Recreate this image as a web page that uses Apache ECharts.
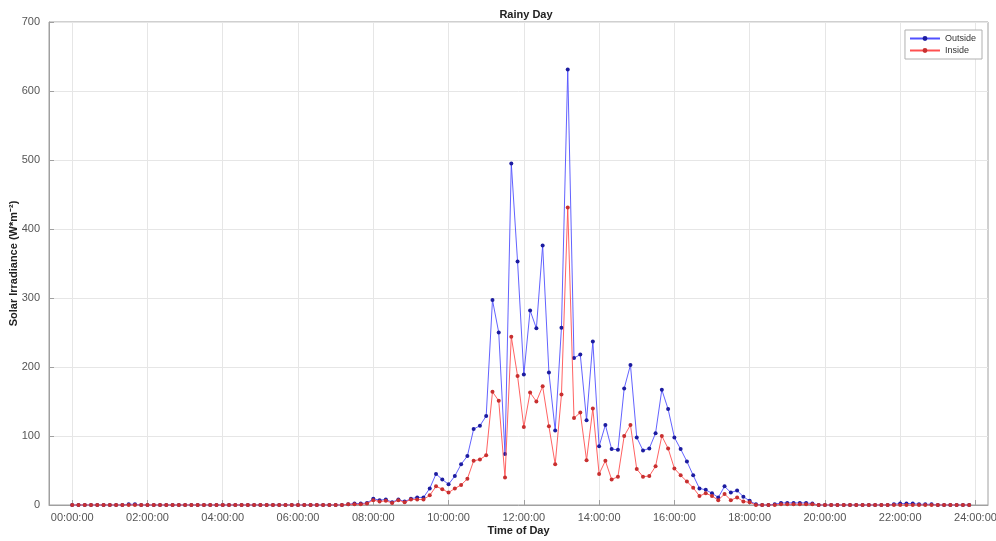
<!DOCTYPE html>
<html>
<head>
<meta charset="utf-8">
<script src="https://cdn.jsdelivr.net/npm/echarts@6/dist/echarts.min.js"></script>
<style>
  html, body { margin: 0; padding: 0; background: #fff; }
  #chart { width: 996px; height: 541px; }
</style>
</head>
<body>
<div id="chart"></div>
<script>
// Sampling: one reading every 10 minutes from 00:00 to 23:50
const stepMinutes = 10;

// Outside irradiance (W*m^-2), one row per hour (6 readings each)
const outside = [
  0,0,0,0,0,0,           // 00h
  0,0,0,1,1,0,           // 01h
  0,0,0,0,0,0,           // 02h
  0,0,0,0,0,0,           // 03h
  0,0,0,0,0,0,           // 04h
  0,0,0,0,0,0,           // 05h
  0,0,0,0,0,0,           // 06h
  0,0,1,2,2,3,           // 07h
  9,7,8,4,8,5,           // 08h
  9,11,11,24,45,37,      // 09h
  30,42,59,71,110,115,   // 10h
  129,297,250,74,495,353,// 11h
  189,282,256,376,192,108,// 12h
  257,631,213,218,123,237,// 13h
  85,116,81,80,169,203,  // 14h
  98,79,82,104,167,139,  // 15h
  98,81,63,43,24,22,     // 16h
  17,11,27,18,21,12,     // 17h
  6,1,0,0,1,3,           // 18h
  3,3,3,3,2,0,           // 19h
  0,0,0,0,0,0,           // 20h
  0,0,0,0,0,1,           // 21h
  2,2,2,1,1,1,           // 22h
  0,0,0,0,0,0            // 23h
];

// Inside irradiance (W*m^-2)
const inside = [
  0,0,0,0,0,0,           // 00h
  0,0,0,0,0,0,           // 01h
  0,0,0,0,0,0,           // 02h
  0,0,0,0,0,0,           // 03h
  0,0,0,0,0,0,           // 04h
  0,0,0,0,0,0,           // 05h
  0,0,0,0,0,0,           // 06h
  0,0,1,1,1,2,           // 07h
  7,5,6,3,7,4,           // 08h
  8,8,8,14,27,23,        // 09h
  18,24,29,38,64,66,     // 10h
  72,164,151,40,244,187, // 11h
  113,163,150,172,114,59,// 12h
  160,431,126,134,65,140,// 13h
  45,64,37,41,100,116,   // 14h
  52,41,42,56,100,82,    // 15h
  53,43,34,25,13,17,     // 16h
  13,7,16,7,11,5,        // 17h
  4,0,0,0,0,1,           // 18h
  1,1,1,1,1,0,           // 19h
  0,0,0,0,0,0,           // 20h
  0,0,0,0,0,0,           // 21h
  0,0,0,0,0,0,           // 22h
  0,0,0,0,0,0            // 23h
];

// X tick positions (minutes since midnight) and y ticks
const xTicks = [0,120,240,360,480,600,720,840,960,1080,1200,1320,1440];
const yTicks = [0,100,200,300,400,500,600,700];

const times = outside.map((_, i) => i * stepMinutes);

function fmtTime(m) {
  const h = Math.round(m / 60);
  return (h < 10 ? '0' + h : '' + h) + ':00:00';
}

const chart = echarts.init(document.getElementById('chart'), null, { renderer: 'canvas' });
const font = 'Liberation Sans, Arial, Helvetica, sans-serif';

chart.setOption({
  backgroundColor: '#ffffff',
  animation: false,
  title: {
    text: 'Rainy Day',
    left: 521, top: 4, textAlign: 'center',
    textStyle: { fontFamily: font, fontSize: 11, fontWeight: 'bold', color: '#222' }
  },
  legend: {
    data: ['Outside', 'Inside'],
    orient: 'vertical',
    right: 14, top: 30,
    itemWidth: 30, itemHeight: 6, itemGap: 3,
    padding: [4, 6, 4, 4],
    backgroundColor: '#fff',
    borderColor: '#b0b0b0', borderWidth: 1,
    textStyle: { fontFamily: font, fontSize: 9, color: '#333' }
  },
  grid: {
    left: 49, right: 8, top: 22, bottom: 36,
    containLabel: false, outerBoundsMode: 'none',
    show: true, borderColor: '#a0a0a0', borderWidth: 1
  },
  xAxis: {
    type: 'value',
    min: -37, max: 1460,
    name: 'Time of Day',
    nameLocation: 'middle', nameGap: 20, nameMoveOverlap: false,
    nameTextStyle: { fontFamily: font, fontSize: 11, fontWeight: 'bold', color: '#222' },
    axisLine: { show: true, onZero: false, lineStyle: { color: '#a0a0a0' } },
    axisTick: { show: true, inside: true, length: 5, customValues: xTicks, lineStyle: { color: '#a0a0a0' } },
    axisLabel: { customValues: xTicks, formatter: fmtTime, fontFamily: font, fontSize: 11, color: '#555', margin: 7 },
    splitLine: { show: true, lineStyle: { color: '#e6e6e6', width: 1 } }
  },
  yAxis: {
    type: 'value',
    min: 0, max: 700, interval: 100,
    name: 'Solar Irradiance (W*m⁻²)',
    nameLocation: 'middle', nameGap: 30, nameMoveOverlap: false,
    nameTextStyle: { fontFamily: font, fontSize: 11, fontWeight: 'bold', color: '#222' },
    axisLine: { show: true, onZero: false, lineStyle: { color: '#a0a0a0' } },
    axisTick: { show: true, inside: true, length: 5, lineStyle: { color: '#a0a0a0' } },
    axisLabel: { fontFamily: font, fontSize: 11, color: '#555', margin: 9 },
    splitLine: { show: true, lineStyle: { color: '#e6e6e6', width: 1 } }
  },
  series: [
    {
      name: 'Outside', type: 'line',
      data: outside.map((v, i) => [times[i], v]),
      symbol: 'circle', symbolSize: 4, showSymbol: true,
      lineStyle: { color: '#5050ff', width: 0.9 },
      itemStyle: { color: '#1c1ca0' },
      z: 3
    },
    {
      name: 'Inside', type: 'line',
      data: inside.map((v, i) => [times[i], v]),
      symbol: 'circle', symbolSize: 4, showSymbol: true,
      lineStyle: { color: '#ff5050', width: 0.9 },
      itemStyle: { color: '#c83030' },
      z: 4
    }
  ]
});
</script>
</body>
</html>
